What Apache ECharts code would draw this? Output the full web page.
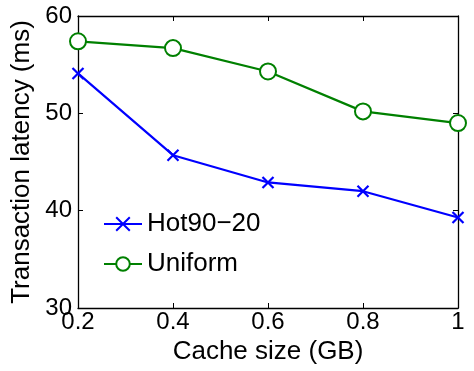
<!DOCTYPE html>
<html>
<head>
<meta charset="utf-8">
<script src="https://cdn.jsdelivr.net/npm/echarts@6/dist/echarts.min.js"></script>
<style>
  html, body { margin: 0; padding: 0; background: #fff; }
  #chart { width: 474px; height: 371px; }
</style>
</head>
<body>
<div id="chart"></div>
<script>
// Cache sizes (GB) on the x axis
const cacheSizes = [0.2, 0.4, 0.6, 0.8, 1.0];
// Transaction latency (ms) per workload
const hotLatency = [54.1, 45.7, 42.9, 42.0, 39.3];
const uniformLatency = [57.4, 56.7, 54.3, 50.2, 49.0];
const seriesNames = ['Hot90\u221220', 'Uniform'];

const FONT = 'Liberation Sans, Arial, sans-serif';
const crossPath = 'path://M0,0L10,10M10,0L0,10';

const pairs = (xs, ys) => xs.map((x, i) => [x, ys[i]]);

const chart = echarts.init(document.getElementById('chart'));
const frameAxis = {
  axisLine: { show: true, lineStyle: { color: '#000', width: 1.3 } },
  axisTick: { show: true, inside: true, length: 5, lineStyle: { color: '#000' } },
  splitLine: { show: false }
};
chart.setOption({
  animation: false,
  grid: { left: 78, right: 16, top: 16, bottom: 63 },
  legend: {
    left: 98, top: 206, orient: 'vertical', itemGap: 14,
    itemWidth: 38, itemHeight: 17,
    textStyle: { fontFamily: FONT, fontSize: 26, color: '#000' },
    data: seriesNames
  },
  xAxis: [
    Object.assign({
      type: 'value', min: 0.2, max: 1, interval: 0.2, position: 'bottom',
      name: 'Cache size (GB)', nameLocation: 'middle', nameGap: 30,
      nameTextStyle: { fontFamily: FONT, fontSize: 26, color: '#000' },
      axisLabel: { fontFamily: FONT, fontSize: 24, color: '#000', margin: 2,
        formatter: v => String(Math.round(v * 10) / 10) }
    }, frameAxis),
    Object.assign({
      type: 'value', min: 0.2, max: 1, interval: 0.2, position: 'top',
      axisLabel: { show: false }
    }, frameAxis)
  ],
  yAxis: [
    Object.assign({
      type: 'value', min: 30, max: 60, interval: 10, position: 'left',
      name: 'Transaction latency (ms)', nameLocation: 'middle', nameGap: 41,
      nameTextStyle: { fontFamily: FONT, fontSize: 26, color: '#000' },
      axisLabel: { fontFamily: FONT, fontSize: 24, color: '#000', margin: 6,
        padding: [4, 0, 0, 0] }
    }, frameAxis),
    Object.assign({
      type: 'value', min: 30, max: 60, interval: 10, position: 'right',
      axisLabel: { show: false }
    }, frameAxis)
  ],
  series: [
    {
      name: seriesNames[0], type: 'line', data: pairs(cacheSizes, hotLatency),
      symbol: crossPath, symbolSize: 11,
      lineStyle: { color: '#0000ff', width: 2.2 },
      itemStyle: { color: 'rgba(0,0,0,0)', borderColor: '#0000ff', borderWidth: 2.2 }
    },
    {
      name: seriesNames[1], type: 'line', data: pairs(cacheSizes, uniformLatency),
      symbol: 'emptyCircle', symbolSize: 16,
      lineStyle: { color: '#008000', width: 2.2 },
      itemStyle: { color: '#008000', borderColor: '#008000', borderWidth: 2 }
    }
  ]
});
</script>
</body>
</html>
